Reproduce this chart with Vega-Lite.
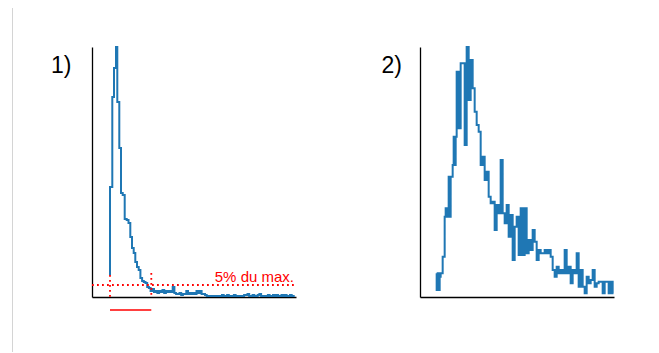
{
  "$schema": "https://vega.github.io/schema/vega-lite/v6.json",
  "background": "white",
  "padding": {"left": 12, "top": 7, "right": 10, "bottom": 0},
  "bounds": "flush",
  "spacing": 124,
  "config": {
    "view": {"stroke": null},
    "axis": {"labels": false, "ticks": false, "grid": false, "domainColor": "#000000", "domainWidth": 1.3},
    "text": {"font": "Liberation Sans"}
  },
  "datasets": {
    "p1": [
      {"x": 18, "y": 22}, {"x": 20.3, "y": 110}, {"x": 22, "y": 200}, {"x": 24, "y": 229}, {"x": 25.3, "y": 250},
      {"x": 27.3, "y": 195}, {"x": 29, "y": 149}, {"x": 30.7, "y": 104}, {"x": 32.7, "y": 102}, {"x": 34.7, "y": 78},
      {"x": 36.5, "y": 77}, {"x": 38.3, "y": 74}, {"x": 40, "y": 60}, {"x": 41.7, "y": 49}, {"x": 43.3, "y": 44},
      {"x": 45, "y": 35}, {"x": 46.7, "y": 30}, {"x": 48.4, "y": 27}, {"x": 50.1, "y": 19}, {"x": 51.8, "y": 16},
      {"x": 53.5, "y": 15}, {"x": 55.2, "y": 14}, {"x": 56.9, "y": 10}, {"x": 58.6, "y": 9}, {"x": 60.3, "y": 6},
      {"x": 62.0, "y": 8}, {"x": 63.7, "y": 5}, {"x": 65.4, "y": 6}, {"x": 67.1, "y": 4}, {"x": 68.8, "y": 6},
      {"x": 70.5, "y": 5}, {"x": 72.2, "y": 7}, {"x": 73.9, "y": 4}, {"x": 75.6, "y": 6}, {"x": 77.3, "y": 5},
      {"x": 79.0, "y": 6}, {"x": 80.7, "y": 5}, {"x": 82.4, "y": 10}, {"x": 84.1, "y": 4}, {"x": 85.8, "y": 3},
      {"x": 87.5, "y": 3}, {"x": 89.2, "y": 4}, {"x": 90.9, "y": 2}, {"x": 92.6, "y": 3}, {"x": 94.3, "y": 3},
      {"x": 96.0, "y": 6}, {"x": 97.7, "y": 3}, {"x": 99.4, "y": 4}, {"x": 101.1, "y": 3}, {"x": 102.8, "y": 4},
      {"x": 104.5, "y": 3}, {"x": 106.2, "y": 6}, {"x": 107.9, "y": 4}, {"x": 109.6, "y": 6}, {"x": 111.3, "y": 3},
      {"x": 113.0, "y": 3}, {"x": 114.7, "y": 2}, {"x": 116.4, "y": 1}, {"x": 118.1, "y": 1}, {"x": 119.8, "y": 1},
      {"x": 121.5, "y": 1}, {"x": 123.2, "y": 1}, {"x": 124.9, "y": 1}, {"x": 126.6, "y": 1}, {"x": 128.3, "y": 1},
      {"x": 130.0, "y": 1}, {"x": 131.7, "y": 2}, {"x": 133.4, "y": 1}, {"x": 135.1, "y": 1}, {"x": 136.8, "y": 2},
      {"x": 138.5, "y": 1}, {"x": 140.2, "y": 1}, {"x": 141.9, "y": 1}, {"x": 143.6, "y": 2}, {"x": 145.3, "y": 1},
      {"x": 147.0, "y": 1}, {"x": 148.7, "y": 1}, {"x": 150.4, "y": 1}, {"x": 152.1, "y": 1}, {"x": 153.8, "y": 2},
      {"x": 155.5, "y": 2}, {"x": 157.2, "y": 3}, {"x": 158.9, "y": 1}, {"x": 160.6, "y": 1}, {"x": 162.3, "y": 2},
      {"x": 164.0, "y": 1}, {"x": 165.7, "y": 1}, {"x": 167.4, "y": 2}, {"x": 169.1, "y": 3}, {"x": 170.8, "y": 1},
      {"x": 172.5, "y": 1}, {"x": 174.2, "y": 1}, {"x": 175.9, "y": 1}, {"x": 177.6, "y": 2}, {"x": 179.3, "y": 1},
      {"x": 181.0, "y": 1}, {"x": 182.7, "y": 2}, {"x": 184.4, "y": 1}, {"x": 186.1, "y": 2}, {"x": 187.8, "y": 1},
      {"x": 189.5, "y": 1}, {"x": 191.2, "y": 2}, {"x": 192.9, "y": 1}, {"x": 194.6, "y": 2}, {"x": 196.3, "y": 1},
      {"x": 198.0, "y": 1}, {"x": 199.7, "y": 2}, {"x": 201.4, "y": 1}, {"x": 202.7, "y": 1}
    ],
    "p2": [
      {"x": 16.67, "y": 23.7}, {"x": 17.67, "y": 7}, {"x": 18.67, "y": 23.7}, {"x": 19.67, "y": 7}, {"x": 20.67, "y": 20.3},
      {"x": 22.67, "y": 23.7}, {"x": 24.67, "y": 40.3}, {"x": 25.67, "y": 80.3}, {"x": 26.67, "y": 88.7}, {"x": 27.67, "y": 80.3},
      {"x": 28.67, "y": 88.7}, {"x": 29.67, "y": 120.3}, {"x": 30.67, "y": 80.3}, {"x": 31.67, "y": 120.3}, {"x": 32.67, "y": 120.3},
      {"x": 33.67, "y": 132}, {"x": 34.67, "y": 160.3}, {"x": 35.67, "y": 132}, {"x": 36.67, "y": 160.3},
      {"x": 38.67, "y": 225.3}, {"x": 40.67, "y": 168.7}, {"x": 42.67, "y": 233.7}, {"x": 44.67, "y": 233.7},
      {"x": 46.67, "y": 152}, {"x": 48.67, "y": 250}, {"x": 50.67, "y": 197}, {"x": 52.67, "y": 237}, {"x": 54.67, "y": 208.7},
      {"x": 56.67, "y": 185.3}, {"x": 58.67, "y": 172}, {"x": 60.67, "y": 165.3}, {"x": 62.67, "y": 132}, {"x": 64.67, "y": 140.3},
      {"x": 66.67, "y": 117}, {"x": 68.67, "y": 125.3}, {"x": 70.67, "y": 100.3}, {"x": 72.67, "y": 93.7}, {"x": 74.67, "y": 95.3},
      {"x": 76.67, "y": 67}, {"x": 78.67, "y": 92}, {"x": 80.67, "y": 83.7}, {"x": 82.67, "y": 137}, {"x": 84.67, "y": 83.7},
      {"x": 86.67, "y": 73.7}, {"x": 88.67, "y": 92}, {"x": 90.67, "y": 60.3}, {"x": 92.67, "y": 82}, {"x": 94.67, "y": 37},
      {"x": 96.67, "y": 70.3}, {"x": 98.67, "y": 80.3}, {"x": 100.67, "y": 42}, {"x": 102.67, "y": 88.7}, {"x": 104.67, "y": 42},
      {"x": 106.67, "y": 88.7}, {"x": 108.67, "y": 43.7}, {"x": 110.67, "y": 57}, {"x": 112.67, "y": 47}, {"x": 114.67, "y": 67},
      {"x": 116.67, "y": 55.3}, {"x": 118.67, "y": 37}, {"x": 120.67, "y": 47}, {"x": 122.67, "y": 43.7}, {"x": 124.67, "y": 43.7},
      {"x": 126.67, "y": 47}, {"x": 128.67, "y": 43.7}, {"x": 130.67, "y": 47}, {"x": 132.67, "y": 40.3}, {"x": 134.67, "y": 27},
      {"x": 136.67, "y": 20.3}, {"x": 138.67, "y": 30.3}, {"x": 140.67, "y": 23.7}, {"x": 142.67, "y": 27}, {"x": 144.67, "y": 23.7},
      {"x": 146.67, "y": 47}, {"x": 148.67, "y": 23.7}, {"x": 150.67, "y": 30.3}, {"x": 152.67, "y": 13.7}, {"x": 154.67, "y": 27},
      {"x": 156.67, "y": 23.7}, {"x": 158.67, "y": 43.7}, {"x": 160.67, "y": 10.3}, {"x": 162.67, "y": 27}, {"x": 164.67, "y": 10.3},
      {"x": 166.67, "y": 3.7}, {"x": 168.67, "y": 20.3}, {"x": 170.67, "y": 13.7}, {"x": 172.67, "y": 17}, {"x": 174.67, "y": 27},
      {"x": 176.67, "y": 10.3}, {"x": 178.67, "y": 13.7}, {"x": 180.67, "y": 15.3}, {"x": 182.67, "y": 15.3}, {"x": 184.67, "y": 3.7},
      {"x": 186.67, "y": 15.3}, {"x": 188.67, "y": 15.3}, {"x": 190.67, "y": 3.7}, {"x": 192.67, "y": 15.3}, {"x": 193.5, "y": 3.7}
    ],
    "p1dots": [{"x": 18, "top": 22}, {"x": 59.3, "top": 24}],
    "p1notes": [{"threshold": 12.5, "from": 0, "to": 202, "label": "5% du max.", "spanStart": 18, "spanEnd": 59.3}]
  },
  "hconcat": [
    {
      "width": 204,
      "height": 250,
      "layer": [
        {
          "data": {"name": "p1"},
          "mark": {"type": "line", "interpolate": "step-before", "color": "#1f77b4", "strokeWidth": 2},
          "encoding": {
            "x": {"field": "x", "type": "quantitative", "scale": {"domain": [0, 204], "nice": false, "zero": false}, "title": null},
            "y": {"field": "y", "type": "quantitative", "scale": {"domain": [0, 250], "nice": false}, "title": null}
          }
        },
        {
          "data": {"name": "p1notes"},
          "mark": {"type": "rule", "color": "red", "strokeWidth": 1.8, "strokeDash": [1.8, 3.2]},
          "encoding": {
            "x": {"field": "from", "type": "quantitative"},
            "x2": {"field": "to"},
            "y": {"datum": 12}
          }
        },
        {
          "data": {"name": "p1dots"},
          "mark": {"type": "rule", "color": "red", "strokeWidth": 1.8, "strokeDash": [1.8, 3.2]},
          "encoding": {
            "x": {"field": "x", "type": "quantitative"},
            "y": {"field": "top", "type": "quantitative"},
            "y2": {"datum": 0}
          }
        },
        {
          "data": {"name": "p1notes"},
          "mark": {"type": "rule", "color": "red", "strokeWidth": 1.5},
          "encoding": {
            "x": {"field": "spanStart", "type": "quantitative"},
            "x2": {"field": "spanEnd"},
            "y": {"datum": -13}
          }
        },
        {
          "data": {"name": "p1notes"},
          "mark": {"type": "text", "color": "red", "fontSize": 15, "align": "right", "baseline": "alphabetic"},
          "encoding": {
            "x": {"datum": 202},
            "y": {"datum": 15.5},
            "text": {"field": "label"}
          }
        },
        {
          "data": {"values": [{"label": "1)"}]},
          "mark": {"type": "text", "color": "black", "fontSize": 23, "align": "left", "baseline": "alphabetic"},
          "encoding": {
            "x": {"datum": -41},
            "y": {"datum": 224},
            "text": {"field": "label"}
          }
        },
        {
          "data": {"values": [{"edge": -79.5}]},
          "mark": {"type": "rule", "color": "#d4d4d4", "strokeWidth": 1},
          "encoding": {
            "x": {"field": "edge", "type": "quantitative"},
            "y": {"datum": 289},
            "y2": {"datum": -55}
          }
        }
      ]
    },
    {
      "width": 194,
      "height": 250,
      "layer": [
        {
          "data": {"name": "p2"},
          "mark": {"type": "line", "interpolate": "step-before", "color": "#1f77b4", "strokeWidth": 2},
          "encoding": {
            "x": {"field": "x", "type": "quantitative", "scale": {"domain": [0, 194], "nice": false, "zero": false}, "title": null},
            "y": {"field": "y", "type": "quantitative", "scale": {"domain": [0, 250], "nice": false}, "title": null}
          }
        },
        {
          "data": {"values": [{"label": "2)"}]},
          "mark": {"type": "text", "color": "black", "fontSize": 23, "align": "left", "baseline": "alphabetic"},
          "encoding": {
            "x": {"datum": -38.5},
            "y": {"datum": 224},
            "text": {"field": "label"}
          }
        }
      ]
    }
  ]
}
